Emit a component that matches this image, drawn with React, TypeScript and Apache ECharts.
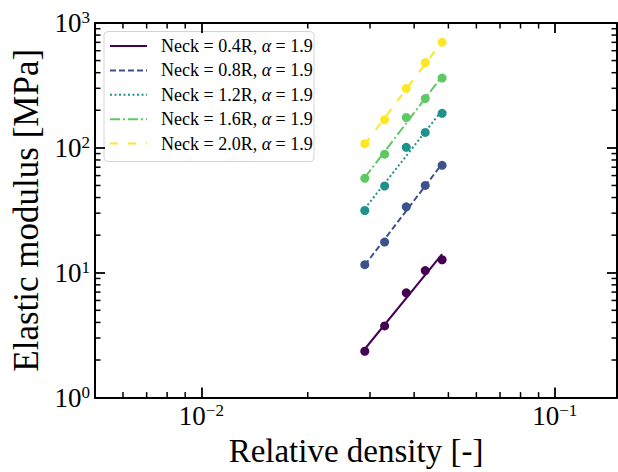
import React, { useEffect, useRef } from "react";
import * as echarts from "echarts";

// ---- data ----
const densities = [0.029, 0.033, 0.038, 0.043, 0.048];
const neck04 = [2.35, 3.75, 6.9, 10.4, 12.7];
const neck08 = [11.6, 17.6, 33.7, 50, 72.5];
const neck12 = [31.5, 49.5, 101, 133, 189];
const neck16 = [57, 89, 175, 248, 362];
const neck20 = [108, 168, 299, 482, 700];

// fitted power-law lines (end points)
const fitDensities = [0.029, 0.048];
const fit04 = [2.45, 14.1];
const fit08 = [11.5, 74.6];
const fit12 = [32.6, 200];
const fit16 = [57.7, 376];
const fit20 = [106.6, 712];

const seriesNames = [
  "Neck = 0.4R",
  "Neck = 0.8R",
  "Neck = 1.2R",
  "Neck = 1.6R",
  "Neck = 2.0R",
];
const alphaText = "α";
const alphaValue = "1.9";

// axis settings / tick positions
const xMin = 0.005;
const xMax = 0.15;
const yMin = 1;
const yMax = 1000;
const xMinorTicks = [0.006, 0.007, 0.008, 0.009, 0.02, 0.03, 0.04, 0.05, 0.06, 0.07, 0.08, 0.09];
const yMinorTicks = [
  2, 3, 4, 5, 6, 7, 8, 9,
  20, 30, 40, 50, 60, 70, 80, 90,
  200, 300, 400, 500, 600, 700, 800, 900,
];
const xTitle = "Relative density [-]";
const yTitle = "Elastic modulus [MPa]";

const colors = ["#440154", "#3b528b", "#21918c", "#5ec962", "#fde725"];
const dashes: (string | number[])[] = ["solid", [6, 3], [2, 2.5], [10, 3, 2, 3], [8, 10]];

const FONT = "Liberation Serif";

function powLabel(v: number) {
  const e = Math.round(Math.log10(v));
  if (Math.abs(Math.log10(v) - e) > 1e-6) return "";
  const es = e < 0 ? "\u2212" + -e : String(e);
  return "{b|10}{s|" + es + "}";
}

const labelRich = {
  b: { fontSize: 27, fontFamily: FONT, color: "#000", lineHeight: 28 },
  s: { fontSize: 17, fontFamily: FONT, color: "#000", verticalAlign: "top", lineHeight: 17 },
};

export default function App() {
  const ref = useRef<HTMLDivElement>(null);
  useEffect(() => {
    if (!ref.current) return;
    const chart = echarts.init(ref.current, null, { renderer: "svg" });
    const fits = [fit04, fit08, fit12, fit16, fit20];
    const pts = [neck04, neck08, neck12, neck16, neck20];

    const axisCommon = {
      type: "log",
      logBase: 10,
      axisLine: { show: true, lineStyle: { color: "#000", width: 2 } },
      axisTick: { show: true, inside: true, length: 10, lineStyle: { color: "#000", width: 1.8 } },
      splitLine: { show: false },
      minorTick: { show: false },
    };

    const lineSeries = fits.map((f, i) => ({
      name: seriesNames[i],
      type: "line",
      data: fitDensities.map((x, j) => [x, f[j]]),
      showSymbol: false,
      symbol: "none",
      lineStyle: { color: colors[i], width: 2, type: dashes[i], cap: "butt" },
      z: 3,
    }));
    const scatterSeries = pts.map((p, i) => ({
      name: seriesNames[i] + " pts",
      type: "scatter",
      data: densities.map((x, j) => [x, p[j]]),
      symbol: "circle",
      symbolSize: 9,
      itemStyle: { color: colors[i], opacity: 1 },
      z: 4,
    }));

    const minorX = {
      type: "custom",
      silent: true,
      clip: false,
      data: xMinorTicks.map((v) => [v, yMin]),
      renderItem: (params: any, api: any) => {
        const v = api.value(0);
        const b = api.coord([v, yMin]);
        const t = api.coord([v, yMax]);
        const st = { stroke: "#000", lineWidth: 1.5 };
        return {
          type: "group",
          children: [
            { type: "line", shape: { x1: b[0], y1: b[1], x2: b[0], y2: b[1] - 5.5 }, style: st },
            { type: "line", shape: { x1: t[0], y1: t[1], x2: t[0], y2: t[1] + 5.5 }, style: st },
          ],
        };
      },
      z: 5,
    };
    const minorY = {
      type: "custom",
      silent: true,
      clip: false,
      data: yMinorTicks.map((v) => [xMin, v]),
      renderItem: (params: any, api: any) => {
        const v = api.value(1);
        const l = api.coord([xMin, v]);
        const r = api.coord([xMax, v]);
        const st = { stroke: "#000", lineWidth: 1.5 };
        return {
          type: "group",
          children: [
            { type: "line", shape: { x1: l[0], y1: l[1], x2: l[0] + 5.5, y2: l[1] }, style: st },
            { type: "line", shape: { x1: r[0], y1: r[1], x2: r[0] - 5.5, y2: r[1] }, style: st },
          ],
        };
      },
      z: 5,
    };

    // legend drawn as graphic
    const lgX = 104, lgY = 31.5, rowH = 24.4, row0 = 46;
    const legendChildren: any[] = [
      {
        type: "rect",
        shape: { x: lgX, y: lgY, width: 210, height: 130, r: 4 },
        style: { fill: "rgba(255,255,255,0.85)", stroke: "#d4d4d4", lineWidth: 1 },
      },
    ];
    seriesNames.forEach((n, i) => {
      const y = row0 + rowH * i;
      legendChildren.push({
        type: "line",
        shape: { x1: 110, y1: y, x2: 147, y2: y },
        style: {
          stroke: colors[i],
          lineWidth: 2,
          lineDash: dashes[i] === "solid" ? null : dashes[i],
          lineCap: "butt",
        },
      });
      legendChildren.push({
        type: "text",
        x: 161,
        y: y,
        style: {
          text: "{n|" + n + ", }{a|" + alphaText + "}{n| = " + alphaValue + "}",
          verticalAlign: "middle",
          align: "left",
          rich: {
            n: { fontSize: 18, fontFamily: FONT, fill: "#000" },
            a: { fontSize: 18, fontFamily: FONT, fontStyle: "italic", fill: "#000" },
          },
        },
      });
    });

    chart.setOption({
      animation: false,
      backgroundColor: "#fff",
      grid: { left: 95, right: 1, top: 23, bottom: 68, containLabel: false },
      xAxis: [
        {
          ...axisCommon,
          position: "bottom",
          min: xMin,
          max: xMax,
          name: xTitle,
          nameLocation: "middle",
          nameGap: 34,
          nameTextStyle: { fontFamily: FONT, fontSize: 33, color: "#000" },
          axisLabel: {
            show: true,
            margin: 4,
            formatter: powLabel,
            rich: labelRich,
            showMinLabel: false,
            showMaxLabel: false,
          },
        },
        {
          ...axisCommon,
          position: "top",
          min: xMin,
          max: xMax,
          axisLabel: { show: false },
        },
      ],
      yAxis: [
        {
          ...axisCommon,
          position: "left",
          min: yMin,
          max: yMax,
          name: yTitle,
          nameLocation: "middle",
          nameGap: 46,
          nameTextStyle: { fontFamily: FONT, fontSize: 35, color: "#000" },
          axisLabel: { show: true, margin: 5, formatter: powLabel, rich: labelRich },
        },
        {
          ...axisCommon,
          position: "right",
          min: yMin,
          max: yMax,
          axisLabel: { show: false },
        },
      ],
      series: [...lineSeries, ...scatterSeries, minorX, minorY],
      graphic: [{ type: "group", children: legendChildren, z: 100 }],
    });
    return () => chart.dispose();
  }, []);
  return (
    <div
      ref={ref}
      style={{ position: "fixed", left: 0, top: 0, width: 618, height: 472, background: "#fff" }}
    />
  );
}
